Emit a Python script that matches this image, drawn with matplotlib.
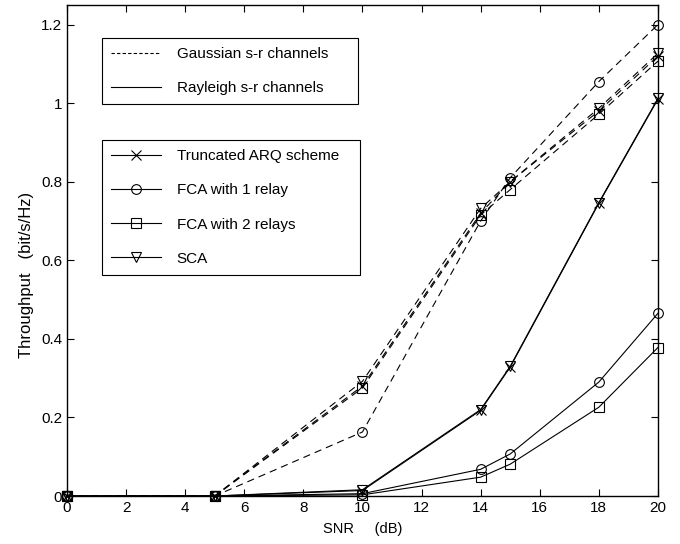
import numpy as np
import matplotlib
matplotlib.use('Agg')
import matplotlib.pyplot as plt
from matplotlib.lines import Line2D

plt.rcParams['font.family'] = ['Liberation Sans', 'DejaVu Sans']

# SNR points (dB)
snr = [0, 5, 10, 14, 15, 18, 20]

# Gaussian s-r channels (dashed)
g_arq = [0, 0, 0.28, 0.72, 0.80, 0.98, 1.12]
g_fca1 = [0, 0, 0.163, 0.70, 0.81, 1.055, 1.20]
g_fca2 = [0, 0, 0.275, 0.715, 0.78, 0.972, 1.107]
g_sca = [0, 0, 0.292, 0.732, 0.80, 0.987, 1.127]

# Rayleigh s-r channels (solid)
r_arq = [0, 0, 0.014, 0.218, 0.328, 0.745, 1.01]
r_fca1 = [0, 0, 0.006, 0.068, 0.107, 0.29, 0.465]
r_fca2 = [0, 0, 0.003, 0.048, 0.081, 0.226, 0.378]
r_sca = [0, 0, 0.016, 0.22, 0.33, 0.747, 1.012]

fig = plt.figure(figsize=(6.8, 5.44), dpi=100)
ax = fig.add_axes([0.0985, 0.0882, 0.869, 0.9026])

ms = 7
dash = (0, (6.5, 4.5))
lw = 0.8
series = [
    (g_arq, 'x', dash), (g_fca1, 'o', dash), (g_fca2, 's', dash), (g_sca, 'v', dash),
    (r_arq, 'x', '-'), (r_fca1, 'o', '-'), (r_fca2, 's', '-'), (r_sca, 'v', '-'),
]
for vals, mk, ls in series:
    ax.plot(snr, vals, color='black', linestyle=ls, linewidth=lw, marker=mk,
            markersize=ms, markerfacecolor='none', markeredgecolor='black',
            markeredgewidth=0.8, clip_on=False, zorder=3)

ax.set_xlim(0, 20)
ax.set_ylim(0, 1.25)
ax.set_xticks(np.arange(0, 21, 2))
ax.set_yticks([0, 0.2, 0.4, 0.6, 0.8, 1.0, 1.2])
ax.set_yticklabels(['0', '0.2', '0.4', '0.6', '0.8', '1', '1.2'])
ax.tick_params(direction='in', top=True, right=True, labelsize=11, length=5, width=0.8)
for s in ax.spines.values():
    s.set_linewidth(1.0)
ax.set_xlabel('SNR     (dB)', fontsize=10.5, labelpad=5)
ax.set_ylabel('Throughput   (bit/s/Hz)', fontsize=12)
ax.yaxis.set_label_coords(-0.056, 0.45)

leg_kw = dict(loc='upper left', mode='expand', frameon=True, fancybox=False,
              edgecolor='black', framealpha=1, fontsize=11, borderaxespad=0,
              handlelength=3.3, handletextpad=1.0)

h1 = [Line2D([], [], color='black', lw=lw, linestyle=(0, (3, 2))),
      Line2D([], [], color='black', lw=lw, linestyle='-')]
leg1 = ax.legend(h1, ['Gaussian s-r channels', 'Rayleigh s-r channels'],
                 bbox_to_anchor=(0.059, 0.933, 0.433, 0), labelspacing=1.3,
                 borderpad=0.6, **leg_kw)
leg1.get_frame().set_linewidth(0.8)
ax.add_artist(leg1)

h2 = [Line2D([], [], color='black', lw=lw, marker=m, markersize=ms,
             markerfacecolor='none', markeredgewidth=0.8) for m in ['x', 'o', 's', 'v']]
leg2 = ax.legend(h2, ['Truncated ARQ scheme', 'FCA with 1 relay', 'FCA with 2 relays', 'SCA'],
                 bbox_to_anchor=(0.059, 0.725, 0.437, 0), labelspacing=1.32,
                 borderpad=0.6, **leg_kw)
leg2.get_frame().set_linewidth(0.8)

fig.savefig('out.png', dpi=100)
